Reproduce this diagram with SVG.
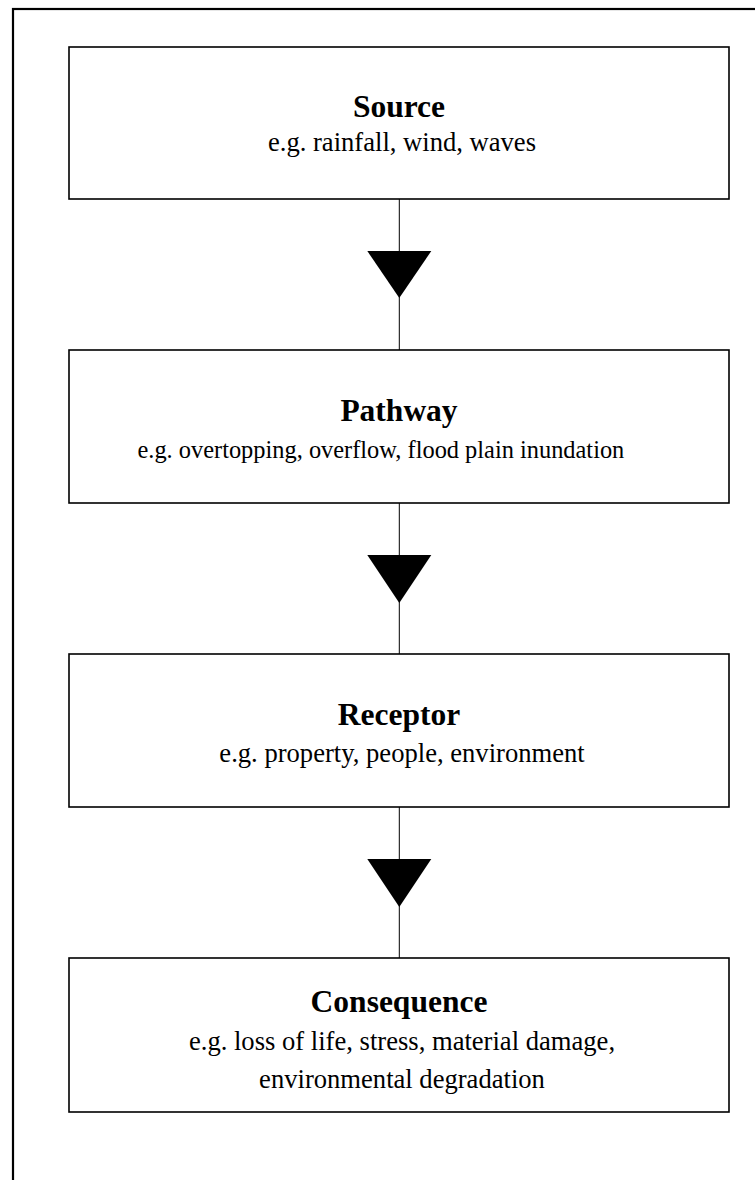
<svg xmlns="http://www.w3.org/2000/svg" width="755" height="1180" viewBox="0 0 755 1180">
  <style>
    .box { fill: #ffffff; stroke: #000000; stroke-width: 1.6; }
    .frame { fill: none; stroke: #000000; stroke-width: 2.2; }
    .link { stroke: #000000; stroke-width: 1; fill: none; }
    .head { fill: #000000; stroke: none; }
    .title { font-family: "Liberation Serif", "Times New Roman", serif; font-weight: bold; font-size: 31.5px; text-anchor: middle; fill: #000000; }
    .sub { font-family: "Liberation Serif", "Times New Roman", serif; font-size: 26.6px; text-anchor: middle; fill: #000000; }
  </style>

  <rect x="0" y="0" width="755" height="1180" fill="#ffffff"/>

  <!-- outer frame, running past the right and bottom edges -->
  <rect class="frame" x="13" y="9" width="800" height="1220"/>

  <g id="connectors">
    <line class="link" x1="399.3" y1="199" x2="399.3" y2="350"/>
    <polygon class="head" points="367.3,251 431.3,251 399.3,298"/>
    <line class="link" x1="399.3" y1="503" x2="399.3" y2="654"/>
    <polygon class="head" points="367.3,555 431.3,555 399.3,603"/>
    <line class="link" x1="399.3" y1="807" x2="399.3" y2="958"/>
    <polygon class="head" points="367.3,859 431.3,859 399.3,907"/>
  </g>

  <g id="source">
    <rect class="box" x="69" y="47" width="660" height="152"/>
    <text class="title" x="399" y="117">Source</text>
    <text class="sub" x="402" y="151">e.g. rainfall, wind, waves</text>
  </g>

  <g id="pathway">
    <rect class="box" x="69" y="350" width="660" height="153"/>
    <text class="title" x="399" y="421">Pathway</text>
    <text class="sub" x="137.5" y="458" style="font-size:24.4px;text-anchor:start">e.g. overtopping, overflow, flood plain inundation</text>
  </g>

  <g id="receptor">
    <rect class="box" x="69" y="654" width="660" height="153"/>
    <text class="title" x="399" y="725">Receptor</text>
    <text class="sub" x="402" y="762">e.g. property, people, environment</text>
  </g>

  <g id="consequence">
    <rect class="box" x="69" y="958" width="660" height="154"/>
    <text class="title" x="399" y="1012">Consequence</text>
    <text class="sub" x="402" y="1050">e.g. loss of life, stress, material damage,</text>
    <text class="sub" x="402" y="1088">environmental degradation</text>
  </g>
</svg>
